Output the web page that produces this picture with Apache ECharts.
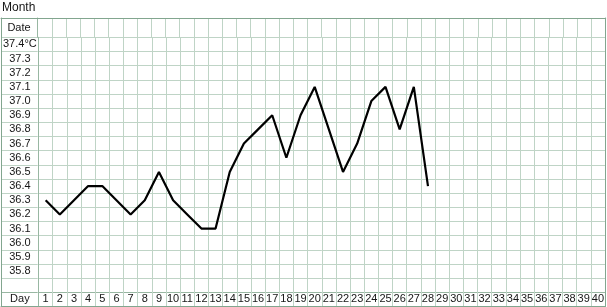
<!DOCTYPE html>
<html>
<head>
<meta charset="utf-8">
<script src="https://cdn.jsdelivr.net/npm/echarts@6/dist/echarts.min.js"></script>
<style>
html,body{margin:0;padding:0;background:#fff;}
#chart{width:607px;height:307px;}
</style>
</head>
<body>
<div id="chart"></div>
<script>
// Day categories (x) and row labels (y, bottom to top)
const days = ['1','2','3','4','5','6','7','8','9','10','11','12','13','14','15','16','17','18','19','20',
  '21','22','23','24','25','26','27','28','29','30','31','32','33','34','35','36','37','38','39','40'];
const rowLabels = ['Day',' ','35.8','35.9','36.0','36.1','36.2','36.3','36.4','36.5','36.6','36.7',
  '36.8','36.9','37.0','37.1','37.2','37.3','37.4°C'];
const headerLabel = ['Date'];
const title = 'Month';
// basal temperature per day (days 1..28)
const temps = [36.3,36.2,36.3,36.4,36.4,36.3,36.2,36.3,36.5,36.3,36.2,36.1,36.1,36.5,36.7,36.8,36.9,36.6,
  36.9,37.1,36.8,36.5,36.7,37.0,37.1,36.8,37.1,36.4];

const FONT = "'Liberation Sans', Arial, sans-serif";
const TXT = '#161616';
const BORDER = '#82a68f';
const SEP = '#98b7a2';
const INNER = '#bfd4c6';

function rowKey(t){
  const s = t.toFixed(1);
  return rowLabels.indexOf(s) >= 0 ? s : '37.4°C';
}
const hSplitColors = rowLabels.map(()=>INNER).concat([INNER]);
hSplitColors[1] = SEP;

const noLabel = {show:false};
const noTick = {show:false};
const labelStyle = {fontFamily: FONT, fontSize: 11, color: TXT};

const chart = echarts.init(document.getElementById('chart'), null, {renderer:'canvas'});
chart.setOption({
  animation:false,
  backgroundColor:'#fff',
  title:{text:title, left:2, top:2, padding:0, textStyle:{fontFamily:FONT, fontSize:12, fontWeight:'normal', color:TXT}},
  grid:[
    {left:37.7, top:37.3, width:568, height:269.2},
    {left:1, top:37.3, width:36.7, height:269.2},
    {left:37.7, top:18, width:568, height:19.3},
    {left:1, top:18, width:36.7, height:19.3}
  ],
  xAxis:[
    {gridIndex:0, type:'category', data:days, boundaryGap:true, position:'bottom',
      axisLine:{lineStyle:{color:BORDER, width:1}}, axisTick:noTick,
      axisLabel:Object.assign({inside:true, margin:7.5, verticalAlign:'middle', interval:0}, labelStyle),
      splitLine:{show:true, interval:0, lineStyle:{color:INNER, width:1}}},
    {gridIndex:1, type:'category', data:[''], position:'bottom',
      axisLine:{lineStyle:{color:BORDER, width:1}}, axisTick:noTick, axisLabel:noLabel, splitLine:{show:false}},
    {gridIndex:2, type:'category', data:days, boundaryGap:true, position:'top',
      axisLine:{lineStyle:{color:BORDER, width:1}}, axisTick:noTick, axisLabel:noLabel,
      splitLine:{show:true, interval:0, lineStyle:{color:INNER, width:1}}},
    {gridIndex:3, type:'category', data:[''], position:'top',
      axisLine:{lineStyle:{color:BORDER, width:1}}, axisTick:noTick, axisLabel:noLabel, splitLine:{show:false}}
  ],
  yAxis:[
    {gridIndex:0, type:'category', data:rowLabels, position:'left',
      axisLine:{lineStyle:{color:SEP, width:1}}, axisTick:noTick,
      axisLabel:Object.assign({margin:18.7, align:'center', interval:0}, labelStyle),
      splitLine:{show:true, interval:0, lineStyle:{color:hSplitColors, width:1}}},
    {gridIndex:0, type:'category', data:rowLabels, position:'right',
      axisLine:{lineStyle:{color:BORDER, width:1}}, axisTick:noTick, axisLabel:noLabel, splitLine:{show:false}},
    {gridIndex:1, type:'category', data:rowLabels, position:'left',
      axisLine:{lineStyle:{color:BORDER, width:1}}, axisTick:noTick, axisLabel:noLabel,
      splitLine:{show:true, interval:0, lineStyle:{color:hSplitColors, width:1}}},
    {gridIndex:2, type:'category', data:headerLabel, position:'left',
      axisLine:{lineStyle:{color:SEP, width:1}}, axisTick:noTick,
      axisLabel:Object.assign({margin:18.7, align:'center', interval:0}, labelStyle), splitLine:{show:false}},
    {gridIndex:2, type:'category', data:headerLabel, position:'right',
      axisLine:{lineStyle:{color:BORDER, width:1}}, axisTick:noTick, axisLabel:noLabel, splitLine:{show:false}},
    {gridIndex:3, type:'category', data:[''], position:'left',
      axisLine:{lineStyle:{color:BORDER, width:1}}, axisTick:noTick, axisLabel:noLabel, splitLine:{show:false}}
  ],
  series:[{
    type:'line', xAxisIndex:0, yAxisIndex:0,
    data: temps.map((t,i)=>[days[i], rowKey(t)]),
    symbol:'none', lineStyle:{color:'#000', width:2.2}, z:10
  }]
});
</script>
</body>
</html>
